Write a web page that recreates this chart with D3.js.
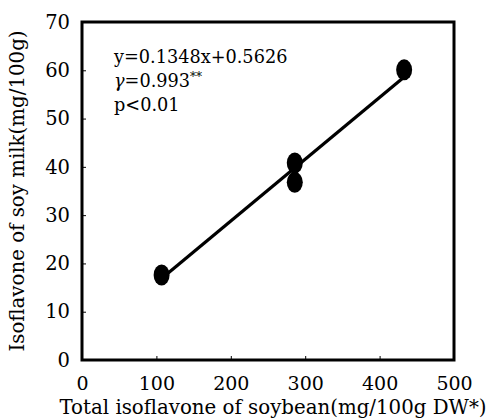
<!DOCTYPE html>
<html lang="en">
<head>
<meta charset="UTF-8">
<title>Soybean vs soy milk isoflavone</title>
<style>
  body { margin: 0; background: #fff; }
  text { font-family: "DejaVu Serif", serif; fill: #000; }
</style>
</head>
<body>
<svg id="chart" width="489" height="420"></svg>
<script src="https://d3js.org/d3.v7.min.js"></script>
<script>
// data
var soybean = [107, 286, 286, 433];     // total isoflavone of soybean (mg/100g DW)
var soymilk = [17.6, 40.8, 36.8, 60.1]; // isoflavone of soy milk (mg/100g)
var fitX = [107, 433];
var fitY = [16.9, 58.6];
var xTicks = [0, 100, 200, 300, 400, 500];
var yTicks = [0, 10, 20, 30, 40, 50, 60, 70];

var svg = d3.select("#chart");
var m = {left: 82, right: 454, top: 22, bottom: 360};

var x = d3.scaleLinear().domain([0, 500]).range([m.left, m.right]);
var y = d3.scaleLinear().domain([0, 70]).range([m.bottom, m.top]);

// x axis, ticks pointing inward
var gx = svg.append("g")
    .attr("transform", "translate(0," + m.bottom + ")")
    .call(d3.axisBottom(x).tickValues(xTicks).tickSize(-4).tickPadding(17));
gx.select(".domain").remove();
gx.selectAll("text").style("font-size", "19px").style("font-family", "DejaVu Serif");
gx.selectAll("line").attr("stroke-width", 1);

// y axis
var gy = svg.append("g")
    .attr("transform", "translate(" + m.left + ",0)")
    .call(d3.axisLeft(y).tickValues(yTicks).tickSize(-4).tickPadding(12));
gy.select(".domain").remove();
gy.selectAll("text").style("font-size", "19.5px").style("font-family", "DejaVu Serif");
gy.selectAll("line").attr("stroke-width", 1);

// frame
svg.append("rect")
    .attr("x", m.left).attr("y", m.top)
    .attr("width", m.right - m.left).attr("height", m.bottom - m.top)
    .attr("fill", "none").attr("stroke", "#000").attr("stroke-width", 3);

// regression line
var line = d3.line()
    .x(function(d, i) { return x(fitX[i]); })
    .y(function(d) { return y(d); });
svg.append("path")
    .datum(fitY)
    .attr("d", line)
    .attr("fill", "none").attr("stroke", "#000").attr("stroke-width", 3.2);

// points
svg.append("g").selectAll("ellipse")
    .data(soybean)
    .enter().append("ellipse")
    .attr("cx", function(d) { return x(d); })
    .attr("cy", function(d, i) { return y(soymilk[i]); })
    .attr("rx", 8).attr("ry", 10.5)
    .attr("fill", "#000");

// annotation
var note = svg.append("g").style("font-size", "17.7px");
note.append("text").attr("x", 114).attr("y", 63).text("y=0.1348x+0.5626");
var g2 = note.append("text").attr("x", 114).attr("y", 87);
g2.append("tspan").style("font-style", "italic").text("\u03b3");
g2.append("tspan").text("=0.993");
g2.append("tspan").attr("dy", -6).style("font-size", "12px").text("**");
note.append("text").attr("x", 114).attr("y", 111).text("p<0.01");

// axis titles
svg.append("text")
    .attr("x", 273).attr("y", 414)
    .attr("text-anchor", "middle")
    .style("font-size", "19.8px")
    .text("Total isoflavone of soybean(mg/100g DW*)");

svg.append("text")
    .attr("transform", "translate(24,191) rotate(-90)")
    .attr("text-anchor", "middle")
    .style("font-size", "19.8px")
    .text("Isoflavone of soy milk(mg/100g)");
</script>
</body>
</html>
